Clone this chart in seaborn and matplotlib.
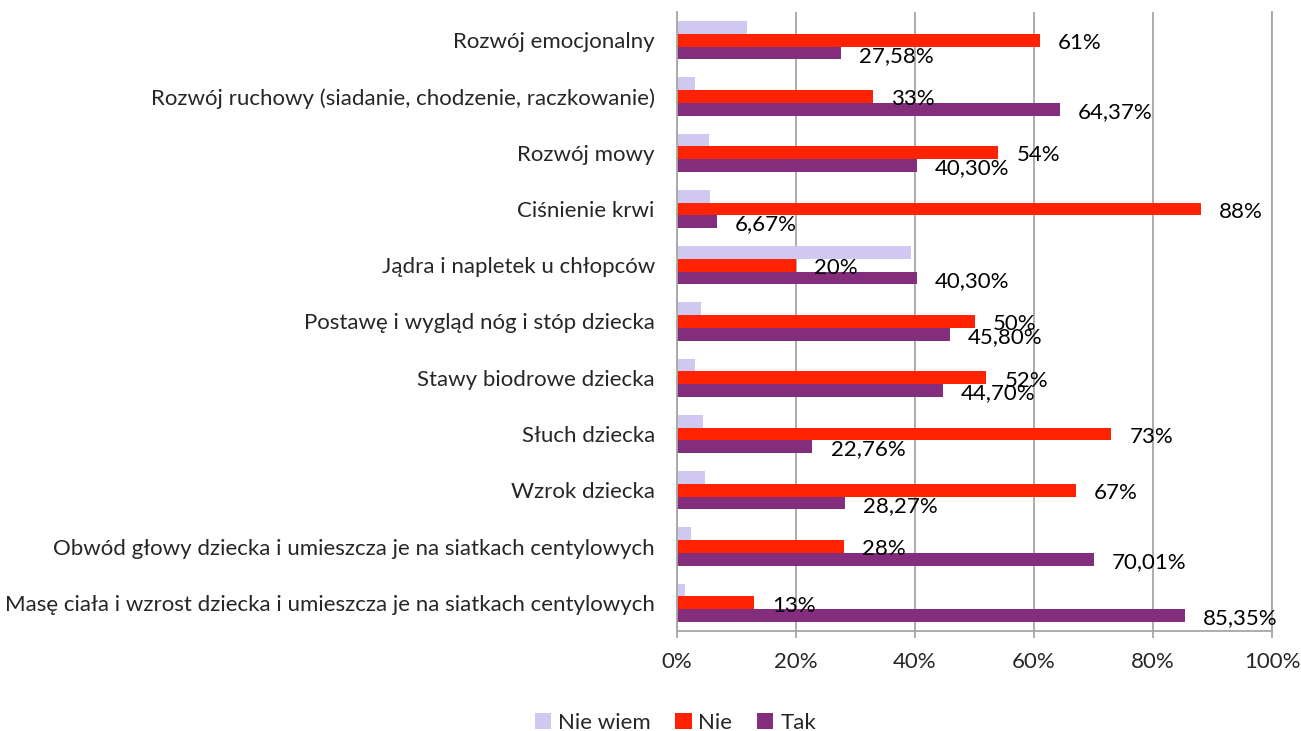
import numpy as np
import pandas as pd
import seaborn as sns
import matplotlib.pyplot as plt
from matplotlib.ticker import FixedLocator, PercentFormatter

categories = [
    'Rozwój emocjonalny',
    'Rozwój ruchowy (siadanie, chodzenie, raczkowanie)',
    'Rozwój mowy',
    'Ciśnienie krwi',
    'Jądra i napletek u chłopców',
    'Postawę i wygląd nóg i stóp dziecka',
    'Stawy biodrowe dziecka',
    'Słuch dziecka',
    'Wzrok dziecka',
    'Obwód głowy dziecka i umieszcza je na siatkach centylowych',
    'Masę ciała i wzrost dziecka i umieszcza je na siatkach centylowych',
]
nie_wiem = [11.7, 3.0, 5.3, 5.5, 39.4, 4.1, 3.0, 4.4, 4.7, 2.4, 1.4]
nie = [61, 33, 54, 88, 20, 50, 52, 73, 67, 28, 13]
tak = [27.58, 64.37, 40.30, 6.67, 40.30, 45.80, 44.70, 22.76, 28.27, 70.01, 85.35]
series = ['Nie wiem', 'Nie', 'Tak']
x_ticks = [0, 20, 40, 60, 80, 100]

nie_labels = [f'{v}%' for v in nie]
tak_labels = [f'{v:.2f}'.replace('.', ',') + '%' for v in tak]

df = pd.DataFrame({
    'kategoria': categories * 3,
    'odp': np.repeat(series, len(categories)),
    'wartosc': nie_wiem + nie + tak,
})

sns.set_style('white')
plt.rcParams['font.family'] = ['Lato', 'DejaVu Sans']
fs = 16

fig = plt.figure(figsize=(13.01, 7.31), dpi=100)
ax = fig.add_axes([0.5204, 0.1368, 0.4573, 0.8468])

colors = ['#D0C8F0', '#FF2200', '#832D7C']
sns.barplot(data=df, y='kategoria', x='wartosc', hue='odp', orient='h',
            palette=colors, hue_order=series, order=categories,
            width=0.68, saturation=1, linewidth=0, ax=ax)

ax.set_xlim(0, 100)
ax.xaxis.set_major_locator(FixedLocator(x_ticks))
ax.xaxis.set_major_formatter(PercentFormatter(decimals=0))
ax.set_xlabel('')
ax.set_ylabel('')

grey = '#A6A6A6'
ax.grid(axis='x', color=grey, linewidth=1.3)
ax.set_axisbelow(True)
for side in ['left', 'bottom', 'right']:
    ax.spines[side].set_color(grey)
    ax.spines[side].set_linewidth(1.3)
ax.spines['top'].set_visible(False)

ax.set_yticks(np.arange(-0.5, len(categories), 1), minor=True)
ax.tick_params(axis='y', which='major', length=0, pad=16, labelsize=fs)
ax.tick_params(axis='y', which='minor', length=5, width=1.3, color=grey, direction='out')
ax.tick_params(axis='x', which='major', length=5, width=1.3, color=grey,
               direction='out', pad=10, labelsize=fs, bottom=True)

# etykiety danych dla "Nie" i "Tak"
for container, labels in zip(ax.containers[1:], [nie_labels, tak_labels]):
    for bar, lab in zip(container, labels):
        ax.annotate(lab, (bar.get_width(), bar.get_y() + bar.get_height() / 2),
                    xytext=(13, -2), textcoords='offset points',
                    ha='left', va='center', fontsize=fs, color='black',
                    annotation_clip=False)

handles, labs = ax.get_legend_handles_labels()
ax.legend_.remove()
fig.legend(handles, labs, loc='lower center', bbox_to_anchor=(0.519, -0.03),
           ncol=3, frameon=False, fontsize=fs, handlelength=0.75, handleheight=0.75,
           handletextpad=0.3, columnspacing=1.1)

fig.savefig('out.png', dpi=100)
